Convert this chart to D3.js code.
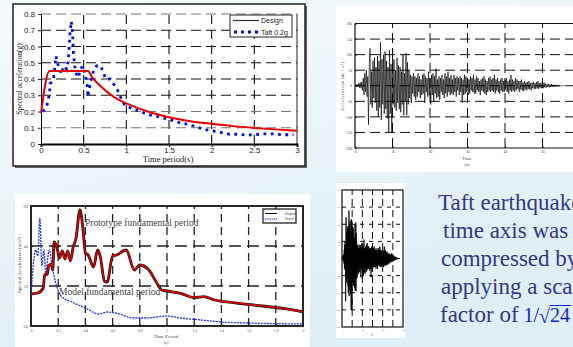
<!DOCTYPE html>
<html>
<head>
<meta charset="utf-8">
<script src="https://cdn.jsdelivr.net/npm/d3@7"></script>
<style>
  body { margin: 0; overflow: hidden; }
  svg { display: block; }
</style>
</head>
<body>
<script>
// ---- data: design / Taft response spectrum (top left)
const designT = [0, 0.1, 0.55, 0.6, 0.7, 0.8, 0.9, 1.0, 1.25, 1.5, 1.75, 2.0, 2.25, 2.5, 2.75, 3.0];
const designA = [0.19, 0.45, 0.45, 0.41, 0.355, 0.31, 0.275, 0.25, 0.2, 0.165, 0.14, 0.124, 0.11, 0.099, 0.09, 0.082];
const taftT = [0.02, 0.066, 0.1, 0.105, 0.145, 0.16, 0.176, 0.19, 0.22, 0.24, 0.26, 0.28, 0.30, 0.32, 0.33,
  0.34, 0.355, 0.37, 0.38, 0.395, 0.42, 0.44, 0.46, 0.49, 0.52, 0.54, 0.55, 0.57, 0.59, 0.62,
  0.65, 0.70, 0.73, 0.76, 0.81, 0.85, 0.89, 0.93, 0.95, 0.98, 1.06, 1.16, 1.26, 1.36, 1.43,
  1.51, 1.63, 1.73, 1.82, 1.92, 2.02, 2.12, 2.21, 2.31, 2.41, 2.49, 2.6, 2.72, 2.84, 2.96];
const taftA = [0.20, 0.23, 0.31, 0.37, 0.395, 0.46, 0.54, 0.50, 0.46, 0.43, 0.47, 0.48, 0.46, 0.51, 0.60,
  0.68, 0.755, 0.68, 0.56, 0.48, 0.42, 0.41, 0.46, 0.48, 0.42, 0.37, 0.29, 0.35, 0.40, 0.46,
  0.48, 0.48, 0.44, 0.40, 0.40, 0.37, 0.34, 0.29, 0.27, 0.24, 0.22, 0.20, 0.18, 0.17, 0.16,
  0.15, 0.13, 0.12, 0.105, 0.09, 0.08, 0.07, 0.06, 0.06, 0.055, 0.057, 0.062, 0.062, 0.057, 0.057];
const p1XTicks = [0, 0.5, 1, 1.5, 2, 2.5, 3];
const p1YTicks = [0, 0.1, 0.2, 0.3, 0.4, 0.5, 0.6, 0.7, 0.8];

// ---- data: Taft acceleration record, one value every 0.2 s
const quakeDt = 0.2;
const quakeAcc = [
  0, 3, -2, 5, -4, 8, -6, 10, -8, 12,
  -15, 25, -30, 40, -20, 50, -35, 30, -125, 60,
  120, -60, 45, -70, 80, -40, 90, -55, 60, -80,
  95, -100, 80, -70, 140, -110, 85, -60, 100, -90,
  110, -75, 80, -105, 60, -150, 115, -90, 70, -150,
  95, -60, 85, -70, 50, -80, 90, -55, 65, -75,
  60, -85, 45, -60, 100, -95, 40, -50, 105, -95,
  75, -60, 50, -40, 35, -55, 30, -25, 40, -35,
  30, -45, 25, -35, 40, -20, 30, -40, 20, -30,
  35, -25, 40, -55, 30, -20, 25, -35, 45, -30,
  25, -60, 35, -30, 40, -50, 30, -25, 55, -40,
  20, -35, 30, -45, 25, -20, 35, -30, 20, -40,
  40, -25, 30, -35, 45, -20, 25, -30, 35, -25,
  20, -30, 35, -20, 25, -35, 30, -15, 25, -30,
  30, -20, 25, -55, 20, -30, 35, -25, 30, -20,
  25, -30, 20, -25, 30, -15, 25, -20, 35, -25,
  20, -25, 30, -15, 25, -20, 15, -30, 20, -15,
  25, -20, 30, -25, 20, -30, 15, -20, 25, -15,
  30, -20, 20, -15, 25, -20, 35, -25, 20, -15,
  25, -20, 15, -25, 20, -15, 25, -20, 15, -20,
  20, -15, 25, -20, 15, -25, 20, -15, 35, -20,
  20, -15, 15, -20, 25, -15, 20, -10, 15, -20,
  15, -12, 20, -15, 10, -18, 15, -12, 10, -15,
  12, -10, 15, -12, 8, -14, 10, -8, 12, -10,
  8, -10, 12, -8, 15, -10, 8, -6, 10, -8,
  6, -8, 10, -5, 7, -6, 5, -4, 6, -5,
  4, -3, 5, -3, 3, -4, 3, -2, 3, -2,
  2, -2, 1, -1, 1, -1, 1, 0, 0, 0
];
const p2XTicks = [0, 10, 20, 30, 40, 50, 60];
const p2YTicks = [-200, -150, -100, -50, 0, 50, 100, 150, 200];

// ---- data: original / scaled spectra (bottom left)
const protoT = [0, 0.05, 0.09, 0.1, 0.12, 0.13, 0.15, 0.16, 0.17, 0.19, 0.21, 0.23, 0.25, 0.27, 0.29,
  0.31, 0.33, 0.36, 0.38, 0.40, 0.42, 0.46, 0.49, 0.51, 0.54, 0.56, 0.60, 0.63, 0.70, 0.76,
  0.80, 0.86, 0.93, 0.96, 1.0, 1.1, 1.2, 1.27, 1.35, 1.5, 1.7, 1.85, 2.0];
const protoA = [1.6, 1.65, 1.9, 2.55, 2.6, 3.0, 3.1, 2.8, 4.2, 3.95, 3.4, 3.75, 3.35, 3.75, 3.25,
  3.95, 4.35, 5.8, 5.0, 3.65, 3.55, 2.95, 3.8, 3.45, 2.25, 2.2, 3.5, 3.55, 3.8, 2.8,
  3.05, 2.85, 2.1, 1.8, 1.75, 1.63, 1.42, 1.47, 1.3, 1.16, 1.0, 0.88, 0.71];
const scaledT = [0, 0.035, 0.05, 0.065, 0.08, 0.095, 0.11, 0.12, 0.135, 0.155, 0.18, 0.22, 0.3,
  0.4, 0.5, 0.56, 0.65, 0.75, 0.85, 1.0, 1.1, 1.25, 1.4, 1.6, 2.0];
const scaledA = [1.6, 3.8, 3.5, 5.4, 3.0, 3.8, 2.5, 3.2, 3.8, 3.0, 2.2, 1.5, 1.2,
  0.9, 0.6, 0.7, 0.6, 0.4, 0.4, 0.5, 0.4, 0.3, 0.2, 0.15, 0.1];
const p3XTicks = [0, 0.2, 0.4, 0.6, 0.8, 1, 1.2, 1.4, 1.6, 1.8, 2];
const p3YTicks = [0, 2, 4, 6];

const slideLines = ["Taft earthquake's", "time axis was", "compressed by", "applying a scale", "factor of"];

const W = 573, H = 347;
const svg = d3.select("body").append("svg").attr("width", W).attr("height", H);

const defs = svg.append("defs");
const grad = defs.append("linearGradient").attr("id", "bg")
  .attr("x1", 0).attr("y1", 0).attr("x2", 0.4).attr("y2", 1);
grad.append("stop").attr("offset", "0%").attr("stop-color", "#f5fafc");
grad.append("stop").attr("offset", "100%").attr("stop-color", "#deeff5");
svg.append("rect").attr("width", W).attr("height", H).attr("fill", "url(#bg)");

function dashedGrid(g, x, y, xs, ys, opt) {
  g.selectAll(null).data(xs).enter().append("line")
    .attr("x1", d => x(d)).attr("x2", d => x(d))
    .attr("y1", y.range()[0]).attr("y2", y.range()[1])
    .attr("stroke", opt.vColor || "#111").attr("stroke-width", opt.w || 1)
    .attr("stroke-dasharray", opt.vDash);
  g.selectAll(null).data(ys).enter().append("line")
    .attr("y1", d => y(d)).attr("y2", d => y(d))
    .attr("x1", x.range()[0]).attr("x2", x.range()[1])
    .attr("stroke", d => (opt.hColor ? opt.hColor(d) : "#111")).attr("stroke-width", opt.w || 1)
    .attr("stroke-dasharray", opt.hDash);
}

// ================= panel 1: design spectrum vs Taft =================
const g1 = svg.append("g");
g1.append("rect").attr("x", 15).attr("y", 6).attr("width", 292).attr("height", 162).attr("fill", "#666");
g1.append("rect").attr("x", 13).attr("y", 4).attr("width", 292).attr("height", 162)
  .attr("fill", "#fff").attr("stroke", "#222").attr("stroke-width", 1.5);

const x1 = d3.scaleLinear().domain([0, 3]).range([41, 297]);
const y1 = d3.scaleLinear().domain([0, 0.8]).range([144, 14]);

dashedGrid(g1, x1, y1, [0.5, 1, 1.5, 2, 2.5], [0.1, 0.2, 0.3, 0.4, 0.5, 0.6, 0.7, 0.8], {
  vDash: "9,6", hDash: "10,5", w: 1.1,
  hColor: d => (d < 0.25 || d > 0.75 ? "#777" : "#111")
});
g1.append("line").attr("x1", 297).attr("x2", 297).attr("y1", 14).attr("y2", 144).attr("stroke", "#222");

const ax1y = g1.append("g").attr("transform", "translate(41,0)")
  .call(d3.axisLeft(y1).tickValues(p1YTicks).tickSize(3)
    .tickFormat(d => d === 0 ? "0" : d3.format(".1f")(d)));
const ax1x = g1.append("g").attr("transform", "translate(0,144)")
  .call(d3.axisBottom(x1).tickValues(p1XTicks).tickSize(3).tickFormat(d3.format("")));
[ax1y, ax1x].forEach(a => {
  a.selectAll("text").attr("font-family", "Liberation Sans, Arial, sans-serif").attr("font-size", 8).attr("fill", "#222");
  a.selectAll("line").attr("stroke", "#222");
});
ax1x.select(".domain").attr("stroke-width", 2);
ax1x.selectAll("text").attr("y", 3.5);

g1.append("text").attr("x", 168).attr("y", 162).attr("text-anchor", "middle")
  .attr("font-family", "Liberation Serif, serif").attr("font-size", 8.5).attr("fill", "#222")
  .text("Time period(s)");
g1.append("text").attr("transform", "translate(21.5,79) rotate(-90)").attr("text-anchor", "middle")
  .attr("font-family", "Liberation Serif, serif").attr("font-size", 7.5).attr("fill", "#222")
  .text("Spectral acceleration(g)");

const line1 = d3.line().x(d => x1(d[0])).y(d => y1(d[1]));
g1.append("path").datum(d3.zip(taftT, taftA)).attr("d", line1)
  .attr("fill", "none").attr("stroke", "#0010ee").attr("stroke-width", 2.8).attr("stroke-dasharray", "2.8,4.5");
g1.append("path").datum(d3.zip(designT, designA)).attr("d", line1.curve(d3.curveMonotoneX))
  .attr("fill", "none").attr("stroke", "#e60000").attr("stroke-width", 2);

const leg1 = g1.append("g");
leg1.append("rect").attr("x", 230).attr("y", 15).attr("width", 62).attr("height", 22)
  .attr("fill", "#fff").attr("stroke", "#222").attr("stroke-width", 1);
leg1.append("line").attr("x1", 233).attr("x2", 259).attr("y1", 20.5).attr("y2", 20.5).attr("stroke", "#333").attr("stroke-width", 1.2);
leg1.append("line").attr("x1", 234).attr("x2", 259).attr("y1", 32).attr("y2", 32)
  .attr("stroke", "#0010ee").attr("stroke-width", 3).attr("stroke-dasharray", "3,4");
leg1.append("text").attr("x", 261).attr("y", 23).attr("font-family", "Liberation Sans, Arial, sans-serif")
  .attr("font-size", 7).attr("fill", "#222").text("Design");
leg1.append("text").attr("x", 261).attr("y", 34.5).attr("font-family", "Liberation Sans, Arial, sans-serif")
  .attr("font-size", 7).attr("fill", "#222").text("Taft 0.2g");

// ================= panel 2: acceleration record =================
const g2 = svg.append("g");
g2.append("rect").attr("x", 336).attr("y", 6).attr("width", 240).attr("height", 166).attr("fill", "#fff");
const x2 = d3.scaleLinear().domain([0, 60]).range([355, 580]);
const y2 = d3.scaleLinear().domain([-200, 200]).range([148, 23.5]);
dashedGrid(g2, x2, y2, [10, 20, 30, 40, 50], [-150, -100, -50, 0, 50, 100, 150], {
  vDash: "10,5", hDash: "10,5", w: 1
});
g2.append("path").attr("d", `M355,23.5H580M355,23.5V148H580`).attr("fill", "none").attr("stroke", "#111").attr("stroke-width", 1.2);
const ax2y = g2.append("g").attr("transform", "translate(355,0)")
  .call(d3.axisLeft(y2).tickValues(p2YTicks).tickSize(-2));
const ax2x = g2.append("g").attr("transform", "translate(0,148)")
  .call(d3.axisBottom(x2).tickValues(p2XTicks).tickSize(-2));
[ax2y, ax2x].forEach(a => {
  a.select(".domain").remove();
  a.selectAll("text").attr("font-family", "Liberation Serif, serif").attr("font-size", 3.5).attr("fill", "#444");
  a.selectAll("line").attr("stroke", "#222");
});
ax2y.selectAll("text").attr("x", -3);
ax2x.selectAll("text").attr("y", 3);
g2.append("text").attr("x", 467).attr("y", 160).attr("text-anchor", "middle")
  .attr("font-family", "Liberation Serif, serif").attr("font-size", 4.5).attr("fill", "#444").text("Time");
g2.append("text").attr("x", 467).attr("y", 166).attr("text-anchor", "middle")
  .attr("font-family", "Liberation Serif, serif").attr("font-size", 4.5).attr("fill", "#444").text("(a)");
g2.append("text").attr("transform", "translate(344,86) rotate(-90)").attr("text-anchor", "middle")
  .attr("font-family", "Liberation Serif, serif").attr("font-size", 4.5).attr("fill", "#444")
  .attr("letter-spacing", 0.6).text("Acceleration (m / s²)");
const quakeLine2 = d3.line().x((d, i) => x2(i * quakeDt)).y(d => y2(d));
g2.append("path").datum(quakeAcc).attr("d", quakeLine2)
  .attr("fill", "none").attr("stroke", "#000").attr("stroke-width", 0.65);

// ================= panel 3: original vs scaled spectra =================
const g3 = svg.append("g");
g3.append("rect").attr("x", 15).attr("y", 194).attr("width", 295).attr("height", 153).attr("fill", "#fff");
const x3 = d3.scaleLinear().domain([0, 2]).range([31, 303]);
const y3 = d3.scaleLinear().domain([0, 6]).range([326, 206]);
dashedGrid(g3, x3, y3, [0.2, 0.4, 0.6, 0.8, 1, 1.2, 1.4, 1.6, 1.8], [2, 4], {
  vDash: "8,5", hDash: "12,6", w: 1.3, vColor: "#222", hColor: () => "#222"
});
g3.append("rect").attr("x", 31).attr("y", 206).attr("width", 272).attr("height", 120)
  .attr("fill", "none").attr("stroke", "#111").attr("stroke-width", 1.8);
const ax3y = g3.append("g").attr("transform", "translate(31,0)")
  .call(d3.axisLeft(y3).tickValues(p3YTicks).tickSize(-2));
const ax3x = g3.append("g").attr("transform", "translate(0,326)")
  .call(d3.axisBottom(x3).tickValues(p3XTicks).tickSize(-2).tickFormat(d3.format("")));
[ax3y, ax3x].forEach(a => {
  a.select(".domain").remove();
  a.selectAll("text").attr("font-family", "Liberation Serif, serif").attr("font-size", 3.5).attr("fill", "#444");
  a.selectAll("line").attr("stroke", "#222");
});
ax3y.selectAll("text").attr("x", -3);
ax3x.selectAll("text").attr("y", 4);
g3.append("text").attr("x", 166).attr("y", 338).attr("text-anchor", "middle")
  .attr("font-family", "Liberation Serif, serif").attr("font-size", 5).attr("fill", "#444").text("Time Period");
g3.append("text").attr("x", 166).attr("y", 344).attr("text-anchor", "middle")
  .attr("font-family", "Liberation Serif, serif").attr("font-size", 4.5).attr("fill", "#444").text("(c)");
g3.append("text").attr("transform", "translate(21,265) rotate(-90)").attr("text-anchor", "middle")
  .attr("font-family", "Liberation Serif, serif").attr("font-size", 5).attr("fill", "#444")
  .text("Spectral Acceleration (m/s²)");

const line3 = d3.line().x(d => x3(d[0])).y(d => y3(d[1])).curve(d3.curveMonotoneX);
g3.append("path").datum(d3.zip(scaledT, scaledA)).attr("d", line3)
  .attr("fill", "none").attr("stroke", "#2030ff").attr("stroke-width", 1.3).attr("stroke-dasharray", "2,1");
g3.append("path").datum(d3.zip(protoT, protoA)).attr("d", line3)
  .attr("fill", "none").attr("stroke", "#111").attr("stroke-width", 2.8);
g3.append("path").datum(d3.zip(protoT, protoA)).attr("d", line3)
  .attr("fill", "none").attr("stroke", "#e80000").attr("stroke-width", 1.5);

g3.append("text").attr("x", 85).attr("y", 226)
  .attr("font-family", "Liberation Serif, serif").attr("font-size", 9.5).attr("fill", "#444")
  .text("Prototype fundamental period");
g3.append("text").attr("x", 59).attr("y", 295)
  .attr("font-family", "Liberation Serif, serif").attr("font-size", 9.5).attr("fill", "#444")
  .text("Model fundamental period");

const leg3 = g3.append("g");
leg3.append("rect").attr("x", 263).attr("y", 209).attr("width", 33).attr("height", 14)
  .attr("fill", "#fff").attr("stroke", "#111").attr("stroke-width", 1.2);
leg3.append("line").attr("x1", 265).attr("x2", 277).attr("y1", 213.5).attr("y2", 213.5).attr("stroke", "#111").attr("stroke-width", 1);
leg3.append("line").attr("x1", 265).attr("x2", 277).attr("y1", 219).attr("y2", 219)
  .attr("stroke", "#2030ff").attr("stroke-width", 1.2).attr("stroke-dasharray", "1.5,0.7");
leg3.append("text").attr("x", 285).attr("y", 214.8).attr("font-family", "Liberation Serif, serif")
  .attr("font-size", 3.3).attr("fill", "#333").text("Original");
leg3.append("text").attr("x", 285).attr("y", 220.3).attr("font-family", "Liberation Serif, serif")
  .attr("font-size", 3.3).attr("fill", "#333").text("Scaled");

// ================= panel 4: compressed record =================
const g4 = svg.append("g");
g4.append("rect").attr("x", 336).attr("y", 183).attr("width", 69).attr("height", 155).attr("fill", "#fff");
const x4 = d3.scaleLinear().domain([0, 60]).range([342, 403]);
const y4 = d3.scaleLinear().domain([-200, 200]).range([327, 190]);
dashedGrid(g4, x4, y4, [10, 20, 30, 40, 50], [-150, -100, -50, 0, 50, 100, 150], {
  vDash: "7,4", hDash: "4,5", w: 1
});
g4.append("rect").attr("x", 342).attr("y", 190).attr("width", 61).attr("height", 137)
  .attr("fill", "none").attr("stroke", "#111").attr("stroke-width", 1.2);
const quakeLine4 = d3.line().x((d, i) => x4(i * quakeDt)).y(d => y4(d));
g4.append("path").datum(quakeAcc).attr("d", quakeLine4)
  .attr("fill", "none").attr("stroke", "#000").attr("stroke-width", 0.8);
const ax4y = g4.append("g").attr("transform", "translate(342,0)")
  .call(d3.axisLeft(y4).tickValues(p2YTicks).tickSize(0));
const ax4x = g4.append("g").attr("transform", "translate(0,327)")
  .call(d3.axisBottom(x4).tickValues([0, 20, 40, 60]).tickSize(0));
[ax4y, ax4x].forEach(a => {
  a.select(".domain").remove();
  a.selectAll("text").attr("font-family", "Liberation Serif, serif").attr("font-size", 2.5).attr("fill", "#666");
});
ax4y.selectAll("text").attr("x", -1.5);
ax4x.selectAll("text").attr("y", 2.5);
g4.append("text").attr("x", 372).attr("y", 336).attr("text-anchor", "middle")
  .attr("font-family", "Liberation Serif, serif").attr("font-size", 3.5).attr("fill", "#555").text("b");

// ================= slide text =================
const txt = svg.append("g").attr("font-family", "Liberation Serif, 'Times New Roman', serif")
  .attr("font-size", 23).attr("fill", "#35358f");
const lineX = [438, 443, 441, 441, 440];
const lineY = [210, 238, 266, 294, 322];
const lineNodes = slideLines.map((s, i) =>
  txt.append("text").attr("x", lineX[i]).attr("y", lineY[i]).text(s).node());
const fx = lineX[4] + lineNodes[4].getComputedTextLength() + 5;
const frac = svg.append("g").attr("font-family", "Liberation Serif, serif").attr("fill", "#1020e0").attr("font-size", 20);
const oneSlash = frac.append("text").attr("x", fx).attr("y", 322).text("1/");
const rx = fx + oneSlash.node().getComputedTextLength();
const rad = frac.append("text").attr("x", rx).attr("y", 323).text("√");
const nx = rx + rad.node().getComputedTextLength();
const num = frac.append("text").attr("x", nx).attr("y", 322).text("24");
frac.append("line").attr("x1", nx - 0.5).attr("x2", nx + num.node().getComputedTextLength() + 1)
  .attr("y1", 305.5).attr("y2", 305.5).attr("stroke", "#1020e0").attr("stroke-width", 1);
</script>
</body>
</html>
